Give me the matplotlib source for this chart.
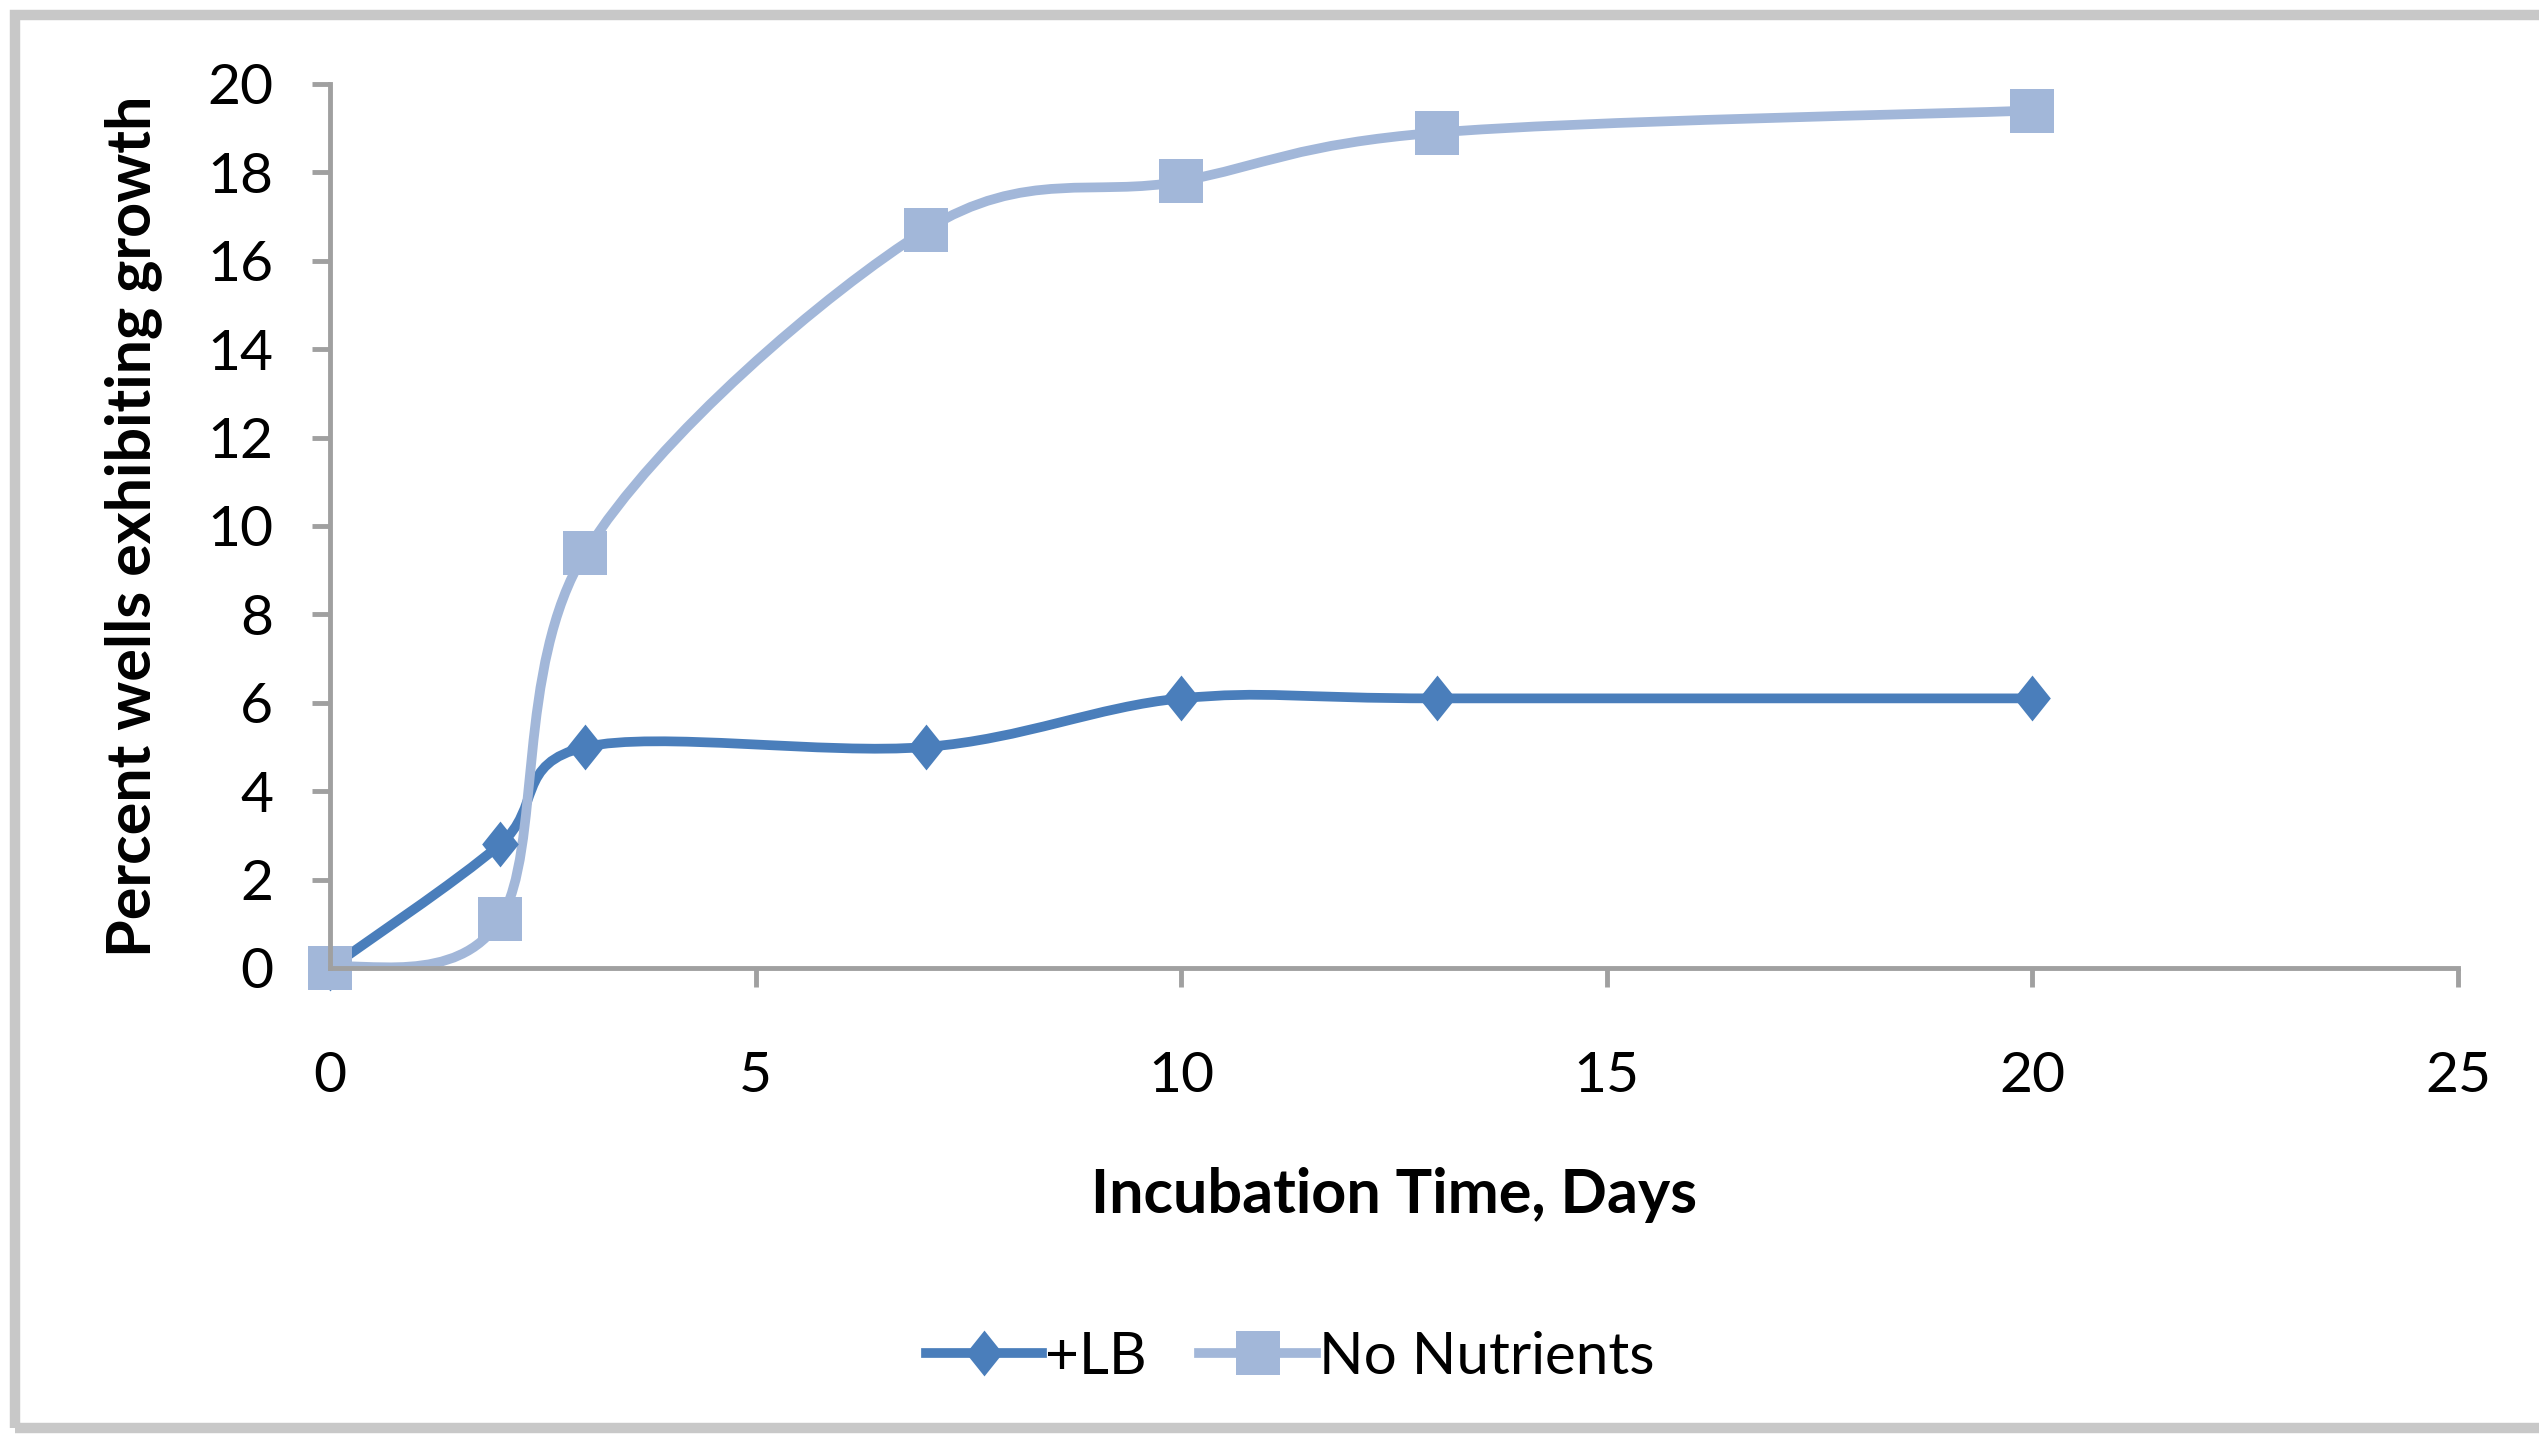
import numpy as np
import matplotlib
matplotlib.use('Agg')
import matplotlib.pyplot as plt
from matplotlib.path import Path
from matplotlib.patches import PathPatch, Rectangle
from matplotlib.lines import Line2D

# data
days = [0, 2, 3, 7, 10, 13, 20]
lb_growth = [0.0, 2.8, 5.0, 5.0, 6.1, 6.1, 6.1]
no_nutrient_growth = [0.0, 1.1, 9.4, 16.7, 17.8, 18.9, 19.4]
series_names = ['+LB', 'No Nutrients']
x_ticks = [0, 5, 10, 15, 20, 25]
y_ticks = [0, 2, 4, 6, 8, 10, 12, 14, 16, 18, 20]

LB_COLOR = '#4A7EBB'
NN_COLOR = '#A2B7D9'
AXIS_GRAY = '#A0A0A0'

plt.rcParams['font.family'] = ['Lato', 'DejaVu Sans']

# excel diamond is a bit taller than wide
DIAMOND = [(0, 1), (0.8, 0), (0, -1), (-0.8, 0), (0, 1)]


def smooth_path(x, y):
    # excel-like smoothed line: cubic bezier through every point
    pts = np.column_stack([x, y]).astype(float)
    n = len(pts)
    verts = [pts[0]]
    codes = [Path.MOVETO]
    for i in range(n - 1):
        prev = pts[i - 1] if i > 0 else pts[i]
        nxt = pts[i + 2] if i + 2 < n else pts[i + 1]
        c1 = pts[i] + (pts[i + 1] - prev) / 6.0
        c2 = pts[i + 1] - (nxt - pts[i]) / 6.0
        verts += [c1, c2, pts[i + 1]]
        codes += [Path.CURVE4] * 3
    return Path(verts, codes)


W, H = 2539, 1435
fig = plt.figure(figsize=(W / 100, H / 100), dpi=100)
ax = fig.add_axes([330 / W, 1 - 968 / H, 2128 / W, 884 / H])

# --- +LB ---
ax.add_patch(PathPatch(smooth_path(days, lb_growth), facecolor='none',
                       edgecolor=LB_COLOR, lw=7, capstyle='round', joinstyle='round'))
ax.plot(days, lb_growth, linestyle='none', marker=DIAMOND, markersize=33,
        color=LB_COLOR, markeredgewidth=0, clip_on=False)

# --- No Nutrients ---
ax.add_patch(PathPatch(smooth_path(days, no_nutrient_growth), facecolor='none',
                       edgecolor=NN_COLOR, lw=7, capstyle='round', joinstyle='round'))
ax.plot(days, no_nutrient_growth, linestyle='none', marker='s', markersize=31,
        color=NN_COLOR, markeredgewidth=0, clip_on=False)

ax.set_xlim(0, 25)
ax.set_ylim(0, 20)
ax.set_xticks(x_ticks)
ax.set_yticks(y_ticks)

for side in ['top', 'right']:
    ax.spines[side].set_visible(False)
for side in ['left', 'bottom']:
    ax.spines[side].set_color(AXIS_GRAY)
    ax.spines[side].set_linewidth(3.5)

ax.tick_params(axis='y', direction='out', length=13, width=3.5, color=AXIS_GRAY,
               pad=28, labelsize=41)
ax.tick_params(axis='x', direction='out', length=14, width=3.5, color=AXIS_GRAY,
               pad=46, labelsize=41)

ax.set_xlabel('Incubation Time, Days', fontsize=44, fontweight='bold', va='center')
ax.xaxis.set_label_coords(0.5, (968 - 1195) / 884)
ax.set_ylabel('Percent wells exhibiting growth', fontsize=44, fontweight='bold', va='center')
ax.yaxis.set_label_coords((133 - 330) / 2128, 0.5)

handles = [
    Line2D([], [], color=LB_COLOR, lw=7, marker=DIAMOND, markersize=33, markeredgewidth=0),
    Line2D([], [], color=NN_COLOR, lw=7, marker='s', markersize=31, markeredgewidth=0),
]
fig.legend(handles, series_names, loc='center', bbox_to_anchor=(1290 / W, 1 - 1357 / H),
           ncol=2, frameon=False, fontsize=42, handlelength=2.0, handletextpad=0.05,
           columnspacing=0.9)

# chart-area border
fig.patches.append(Rectangle((15 / W, 7 / H), 2.0, (1420 - 7) / H, transform=fig.transFigure,
                             fill=False, edgecolor='#C8C8C8', lw=7.5, figure=fig))

fig.savefig('out.png', dpi=100, facecolor='white')
